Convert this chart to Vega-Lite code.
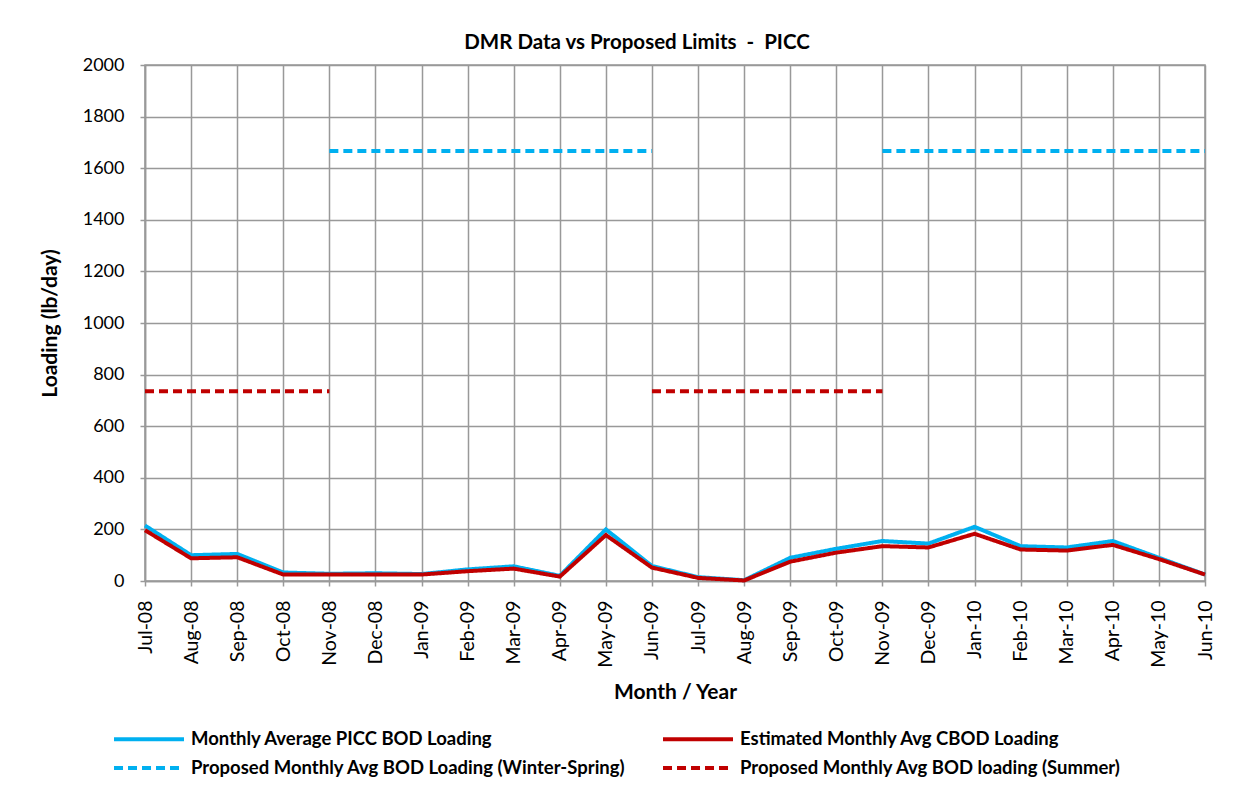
{
  "$schema": "https://vega.github.io/schema/vega-lite/v6.json",
  "autosize": {"type": "none"},
  "width": 1060,
  "height": 516,
  "padding": {"left": 145, "top": 65, "right": 42, "bottom": 214},
  "background": "white",
  "title": {"text": "DMR Data vs Proposed Limits \u00a0-\u00a0 PICC", "font": "Lato", "fontSize": 20.5, "fontWeight": "bold", "color": "black", "anchor": "middle", "dx": -38, "offset": 3},
  "datasets": {
    "limits": [
      {"m": "Jul-08", "s": "Proposed Monthly Avg BOD loading (Summer)", "seg": "s1", "v": 735},
      {"m": "Aug-08", "s": "Proposed Monthly Avg BOD loading (Summer)", "seg": "s1", "v": 735},
      {"m": "Sep-08", "s": "Proposed Monthly Avg BOD loading (Summer)", "seg": "s1", "v": 735},
      {"m": "Oct-08", "s": "Proposed Monthly Avg BOD loading (Summer)", "seg": "s1", "v": 735},
      {"m": "Nov-08", "s": "Proposed Monthly Avg BOD loading (Summer)", "seg": "s1", "v": 735},
      {"m": "Jun-09", "s": "Proposed Monthly Avg BOD loading (Summer)", "seg": "s2", "v": 735},
      {"m": "Jul-09", "s": "Proposed Monthly Avg BOD loading (Summer)", "seg": "s2", "v": 735},
      {"m": "Aug-09", "s": "Proposed Monthly Avg BOD loading (Summer)", "seg": "s2", "v": 735},
      {"m": "Sep-09", "s": "Proposed Monthly Avg BOD loading (Summer)", "seg": "s2", "v": 735},
      {"m": "Oct-09", "s": "Proposed Monthly Avg BOD loading (Summer)", "seg": "s2", "v": 735},
      {"m": "Nov-09", "s": "Proposed Monthly Avg BOD loading (Summer)", "seg": "s2", "v": 735},
      {"m": "Nov-08", "s": "Proposed Monthly Avg BOD Loading (Winter-Spring)", "seg": "w1", "v": 1667},
      {"m": "Dec-08", "s": "Proposed Monthly Avg BOD Loading (Winter-Spring)", "seg": "w1", "v": 1667},
      {"m": "Jan-09", "s": "Proposed Monthly Avg BOD Loading (Winter-Spring)", "seg": "w1", "v": 1667},
      {"m": "Feb-09", "s": "Proposed Monthly Avg BOD Loading (Winter-Spring)", "seg": "w1", "v": 1667},
      {"m": "Mar-09", "s": "Proposed Monthly Avg BOD Loading (Winter-Spring)", "seg": "w1", "v": 1667},
      {"m": "Apr-09", "s": "Proposed Monthly Avg BOD Loading (Winter-Spring)", "seg": "w1", "v": 1667},
      {"m": "May-09", "s": "Proposed Monthly Avg BOD Loading (Winter-Spring)", "seg": "w1", "v": 1667},
      {"m": "Jun-09", "s": "Proposed Monthly Avg BOD Loading (Winter-Spring)", "seg": "w1", "v": 1667},
      {"m": "Nov-09", "s": "Proposed Monthly Avg BOD Loading (Winter-Spring)", "seg": "w2", "v": 1667},
      {"m": "Dec-09", "s": "Proposed Monthly Avg BOD Loading (Winter-Spring)", "seg": "w2", "v": 1667},
      {"m": "Jan-10", "s": "Proposed Monthly Avg BOD Loading (Winter-Spring)", "seg": "w2", "v": 1667},
      {"m": "Feb-10", "s": "Proposed Monthly Avg BOD Loading (Winter-Spring)", "seg": "w2", "v": 1667},
      {"m": "Mar-10", "s": "Proposed Monthly Avg BOD Loading (Winter-Spring)", "seg": "w2", "v": 1667},
      {"m": "Apr-10", "s": "Proposed Monthly Avg BOD Loading (Winter-Spring)", "seg": "w2", "v": 1667},
      {"m": "May-10", "s": "Proposed Monthly Avg BOD Loading (Winter-Spring)", "seg": "w2", "v": 1667},
      {"m": "Jun-10", "s": "Proposed Monthly Avg BOD Loading (Winter-Spring)", "seg": "w2", "v": 1667}
    ],
    "bod": [
      {"m": "Jul-08", "v": 215}, {"m": "Aug-08", "v": 100}, {"m": "Sep-08", "v": 105},
      {"m": "Oct-08", "v": 33}, {"m": "Nov-08", "v": 28}, {"m": "Dec-08", "v": 30},
      {"m": "Jan-09", "v": 27}, {"m": "Feb-09", "v": 45}, {"m": "Mar-09", "v": 57},
      {"m": "Apr-09", "v": 20}, {"m": "May-09", "v": 200}, {"m": "Jun-09", "v": 58},
      {"m": "Jul-09", "v": 15}, {"m": "Aug-09", "v": 3}, {"m": "Sep-09", "v": 90},
      {"m": "Oct-09", "v": 125}, {"m": "Nov-09", "v": 155}, {"m": "Dec-09", "v": 145},
      {"m": "Jan-10", "v": 210}, {"m": "Feb-10", "v": 135}, {"m": "Mar-10", "v": 130},
      {"m": "Apr-10", "v": 155}, {"m": "May-10", "v": 90}, {"m": "Jun-10", "v": 25}
    ],
    "cbod": [
      {"m": "Jul-08", "v": 197}, {"m": "Aug-08", "v": 88}, {"m": "Sep-08", "v": 92},
      {"m": "Oct-08", "v": 25}, {"m": "Nov-08", "v": 25}, {"m": "Dec-08", "v": 25},
      {"m": "Jan-09", "v": 25}, {"m": "Feb-09", "v": 38}, {"m": "Mar-09", "v": 48},
      {"m": "Apr-09", "v": 17}, {"m": "May-09", "v": 178}, {"m": "Jun-09", "v": 52},
      {"m": "Jul-09", "v": 12}, {"m": "Aug-09", "v": 2}, {"m": "Sep-09", "v": 75},
      {"m": "Oct-09", "v": 110}, {"m": "Nov-09", "v": 135}, {"m": "Dec-09", "v": 130},
      {"m": "Jan-10", "v": 183}, {"m": "Feb-10", "v": 122}, {"m": "Mar-10", "v": 118},
      {"m": "Apr-10", "v": 140}, {"m": "May-10", "v": 85}, {"m": "Jun-10", "v": 25}
    ]
  },
  "encoding": {
    "x": {
      "field": "m", "type": "ordinal",
      "sort": ["Jul-08","Aug-08","Sep-08","Oct-08","Nov-08","Dec-08","Jan-09","Feb-09","Mar-09","Apr-09","May-09","Jun-09","Jul-09","Aug-09","Sep-09","Oct-09","Nov-09","Dec-09","Jan-10","Feb-10","Mar-10","Apr-10","May-10","Jun-10"],
      "scale": {"type": "point", "padding": 0},
      "axis": {"title": "Month / Year", "labelAngle": -90, "labelAlign": "right", "labelBaseline": "middle", "labelPadding": 14, "labelFontSize": 19.5, "titlePadding": 14}
    },
    "y": {
      "field": "v", "type": "quantitative",
      "scale": {"domain": [0, 2000], "nice": false},
      "axis": {"title": "Loading (lb/day)", "format": "d", "values": [0,200,400,600,800,1000,1200,1400,1600,1800,2000], "labelPadding": 16, "labelFontSize": 18, "titlePadding": 22}
    },
    "color": {
      "field": "s", "type": "nominal",
      "scale": {
        "domain": ["Monthly Average PICC BOD Loading", "Estimated Monthly Avg CBOD Loading", "Proposed Monthly Avg BOD Loading (Winter-Spring)", "Proposed Monthly Avg BOD loading (Summer)"],
        "range": ["#00B0F0", "#C00000", "#00B0F0", "#C00000"]
      },
      "legend": {"title": null, "orient": "none", "direction": "horizontal", "legendX": -7, "legendY": 663, "columns": 2, "columnPadding": 29, "rowPadding": 8, "symbolType": "M-4,0H4", "symbolSize": 306, "symbolStrokeWidth": 4, "labelOffset": 31, "labelLimit": 700, "labelFont": "Lato", "labelFontSize": 18.5, "labelFontWeight": "bold", "labelColor": "black"}
    },
    "strokeDash": {
      "field": "s", "type": "nominal",
      "scale": {
        "domain": ["Monthly Average PICC BOD Loading", "Estimated Monthly Avg CBOD Loading", "Proposed Monthly Avg BOD Loading (Winter-Spring)", "Proposed Monthly Avg BOD loading (Summer)"],
        "range": [[1, 0], [1, 0], [9, 5], [9, 5]]
      },
      "legend": null
    }
  },
  "layer": [
    {
      "data": {"name": "limits"},
      "mark": {"type": "line", "strokeWidth": 4},
      "encoding": {"detail": {"field": "seg", "type": "nominal"}}
    },
    {
      "data": {"name": "bod"},
      "transform": [{"calculate": "'Monthly Average PICC BOD Loading'", "as": "s"}],
      "mark": {"type": "line", "strokeWidth": 4}
    },
    {
      "data": {"name": "cbod"},
      "transform": [{"calculate": "'Estimated Monthly Avg CBOD Loading'", "as": "s"}],
      "mark": {"type": "line", "strokeWidth": 4}
    }
  ],
  "config": {
    "font": "Lato",
    "view": {"stroke": "#999999", "strokeWidth": 1.5},
    "axis": {
      "grid": true, "gridColor": "#999999", "gridWidth": 1.5, "gridOpacity": 1,
      "domainColor": "#999999", "domainWidth": 1.5,
      "tickColor": "#999999", "tickSize": 5, "tickWidth": 1.5,
      "labelFont": "Lato", "labelColor": "black",
      "titleFont": "Lato", "titleFontSize": 21, "titleFontWeight": "bold", "titleColor": "black"
    }
  }
}
